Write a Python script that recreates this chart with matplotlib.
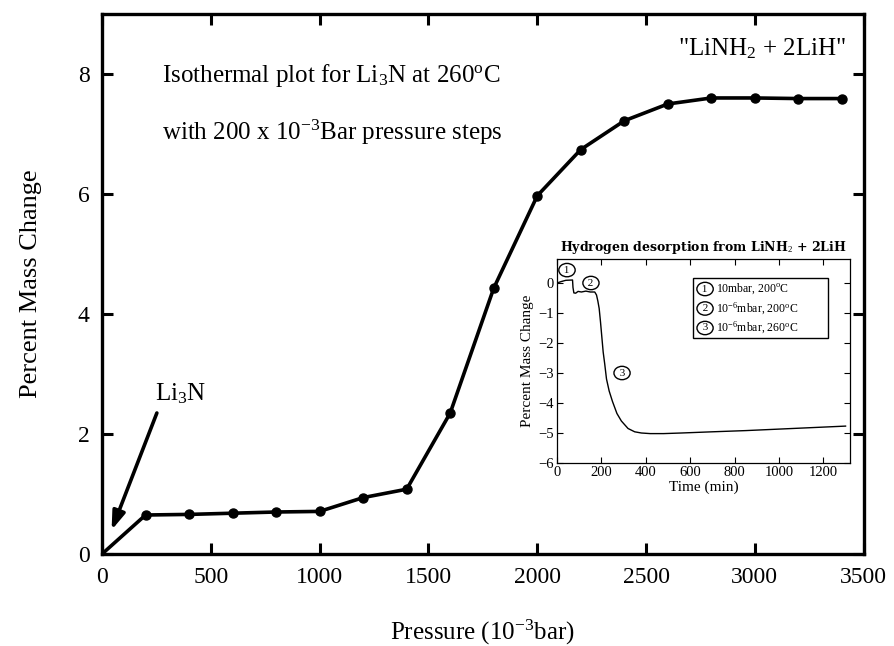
import matplotlib
matplotlib.use("Agg")
import matplotlib.pyplot as plt
from matplotlib.patches import Rectangle

plt.rcParams['font.family'] = ['Liberation Serif', 'DejaVu Serif']
plt.rcParams['mathtext.fontset'] = 'custom'
plt.rcParams['mathtext.rm'] = 'Liberation Serif'
plt.rcParams['mathtext.it'] = 'Liberation Serif:italic'
plt.rcParams['mathtext.bf'] = 'Liberation Serif:bold'

# Main isotherm data
pressure = [0, 200, 400, 600, 800, 1000, 1200, 1400, 1600, 1800, 2000,
            2200, 2400, 2600, 2800, 3000, 3200, 3400]
mass_change = [0.0, 0.65, 0.66, 0.68, 0.70, 0.71, 0.94, 1.08, 2.35, 4.43, 5.97,
               6.74, 7.22, 7.50, 7.60, 7.60, 7.59, 7.59]
x_ticks = [0, 500, 1000, 1500, 2000, 2500, 3000, 3500]
y_ticks = [0, 2, 4, 6, 8]

# Inset desorption data
time_min = [0, 20, 40, 70, 72, 76, 84, 95, 110, 130, 150, 170, 178, 184, 190,
            196, 202, 208, 215, 223, 235, 250, 270, 290, 320, 350, 380, 420,
            480, 560, 700, 850, 1000, 1150, 1300]
desorb = [0.0, 0.05, 0.09, 0.10, -0.15, -0.33, -0.34, -0.28, -0.30, -0.27, -0.30,
          -0.30, -0.40, -0.60, -0.85, -1.30, -1.80, -2.30, -2.70, -3.20, -3.60,
          -3.95, -4.35, -4.60, -4.85, -4.96, -5.00, -5.02, -5.02, -5.00, -4.96,
          -4.92, -4.87, -4.82, -4.77]
inset_xticks = [0, 200, 400, 600, 800, 1000, 1200]
inset_yticks = [0, -1, -2, -3, -4, -5, -6]
legend_labels = ["10mbar, 200$^{\\rm o}$C", "10$^{-6}$mbar, 200$^{\\rm o}$C",
                 "10$^{-6}$mbar, 260$^{\\rm o}$C"]

fig = plt.figure(figsize=(8.95, 6.46), dpi=100)
ax = fig.add_axes([0.114, 0.1424, 0.851, 0.836])
ax.plot(pressure, mass_change, color='black', lw=2.6, zorder=3)
ax.plot(pressure[1:], mass_change[1:], 'o', color='black', ms=6.5, zorder=4)
ax.set_xlim(0, 3500)
ax.set_ylim(0, 9)
ax.set_xticks(x_ticks)
ax.set_yticks(y_ticks)
ax.tick_params(direction='in', length=8, width=2.2, top=True, right=True,
               labelsize=17, pad=9)
for s in ax.spines.values():
    s.set_linewidth(2.4)
ax.set_xlabel("Pressure (10$^{-3}$bar)", fontsize=18, labelpad=22)
ax.set_ylabel("Percent Mass Change", fontsize=19, labelpad=26)

ax.text(276, 7.98, "Isothermal plot for Li$_3$N at 260$^{\\rm o}$C", fontsize=18,
        va='center', ha='left')
ax.text(276, 7.02, "with 200 x 10$^{-3}$Bar pressure steps", fontsize=18,
        va='center', ha='left')
ax.text(2646, 8.42, "\"LiNH$_2$ + 2LiH\"", fontsize=18, va='center', ha='left')
ax.text(243, 2.67, "Li$_3$N", fontsize=18, va='center', ha='left')
ax.annotate("", xy=(44, 0.40), xytext=(252, 2.35),
            arrowprops=dict(arrowstyle='-|>,head_length=1.1,head_width=0.38',
                            color='black', lw=2.6, shrinkA=0, shrinkB=0))

# Inset
ins = fig.add_axes([557 / 895, 1 - 463 / 646, 293 / 895, 204 / 646])
ins.plot(time_min, desorb, color='black', lw=1.0)
ins.set_xlim(0, 1320)
ins.set_ylim(-6, 0.8)
ins.set_xticks(inset_xticks)
ins.set_yticks(inset_yticks)
ins.tick_params(direction='in', length=4, width=0.8, top=True, right=True,
                labelsize=10.5, pad=2)
for s in ins.spines.values():
    s.set_linewidth(0.9)
ins.set_xlabel("Time (min)", fontsize=11, labelpad=1)
ins.set_ylabel("Percent Mass Change", fontsize=11, labelpad=3)
ins.set_title("Hydrogen desorption from LiNH$_2$ + 2LiH", fontsize=9,
              fontweight='bold', family='DejaVu Serif', pad=6)

circ = dict(boxstyle='ellipse,pad=0.02', fc='white', ec='black', lw=1.0)
ins.text(45, 0.43, " 1 ", fontsize=8, ha='center', va='center', bbox=circ)
ins.text(153, 0.0, " 2 ", fontsize=8, ha='center', va='center', bbox=circ)
ins.text(293, -3.0, " 3 ", fontsize=8, ha='center', va='center', bbox=circ)

ins.add_patch(Rectangle((612, -1.83), 609, 2.0, fill=False, ec='black', lw=1.0,
                        transform=ins.transData, zorder=5))
for i, lab in enumerate(legend_labels):
    yy = -0.2 - i * 0.65
    ins.text(667, yy, " %d " % (i + 1), fontsize=8, ha='center', va='center',
             bbox=circ)
    ins.text(716, yy, lab, fontsize=8.5, ha='left', va='center')

fig.savefig("out.png", dpi=100)
